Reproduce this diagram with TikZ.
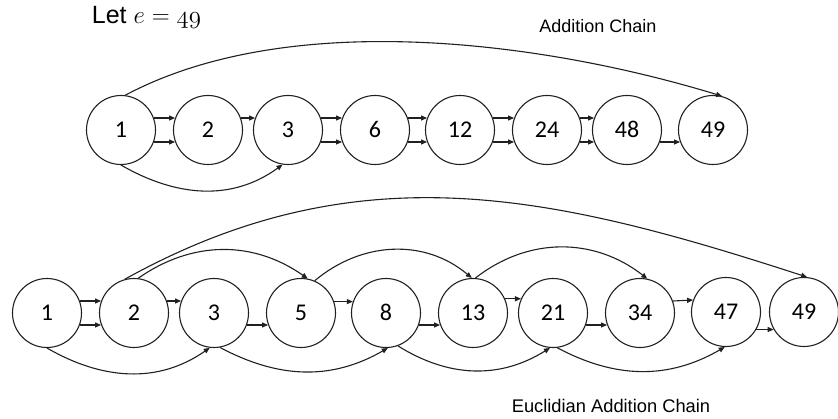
\documentclass[tikz,border=0pt]{standalone}
\usepackage[no-math]{fontspec}
\setmainfont{Liberation Sans}
\newfontfamily\numfont{Carlito}
\usepackage{tikz}
\usetikzlibrary{arrows.meta}

\definecolor{ink}{RGB}{35,31,32}

\begin{document}
\begin{tikzpicture}[x=1pt, y=1pt, line width=1.1pt, draw=ink,
    num/.style={circle, draw, minimum size=69pt, inner sep=0pt,
        text height=15.5pt, text depth=0pt,
        font=\numfont\fontsize{24}{24}\selectfont},
    arr/.style={-{Triangle[length=6pt,width=5pt]}}]
    \useasboundingbox (0,0) rectangle (838,418);

    %% Labels
    \node[anchor=base west, font=\fontsize{25}{25}\selectfont] (let) at (88,394)
        {Let $e \mathrel{=} \mathchar"0134\mathchar"0139$};
    \node[anchor=base, font=\fontsize{18}{18}\selectfont] (top) at (598,385) {Addition Chain};
    \node[anchor=base, font=\fontsize{18.3}{18.3}\selectfont] (bot) at (611,6) {Euclidian Addition Chain};

    %% Addition chain
    \node[num] (t1) at (121,288) {1};
    \node[num] (t2) at (208,288) {2};
    \node[num] (t3) at (288,288) {3};
    \node[num] (t6) at (375,288) {6};
    \node[num] (t12) at (460,288) {12};
    \node[num] (t24) at (547,288) {24};
    \node[num] (t48) at (627,288) {48};
    \node[num] (t49) at (713,288) {49};

    \draw[arr] (t1.20) -- (t2.160);
    \draw[arr] (t1.-20) -- (t2.200);
    \draw[arr] (t2.20) -- (t3.160);
    \draw[arr] (t3.20) -- (t6.160);
    \draw[arr] (t3.-20) -- (t6.200);
    \draw[arr] (t6.20) -- (t12.160);
    \draw[arr] (t6.-20) -- (t12.200);
    \draw[arr] (t12.20) -- (t24.160);
    \draw[arr] (t12.-20) -- (t24.200);
    \draw[arr] (t24.20) -- (t48.160);
    \draw[arr] (t24.-20) -- (t48.200);
    \draw[arr] (t48.-20) -- (t49.200);

    \draw[arr] (t1.83) to[out=28, in=163, looseness=0.8] (t49.75);
    \draw[arr] (t1.-90) to[out=-30, in=-144] (t3.-99);

    %% Euclidian addition chain
    \node[num] (b1) at (47,105) {1};
    \node[num] (b2) at (134,105) {2};
    \node[num] (b3) at (214,105) {3};
    \node[num] (b5) at (301,105) {5};
    \node[num] (b8) at (386,105) {8};
    \node[num] (b13) at (473,105) {13};
    \node[num] (b21) at (553,105) {21};
    \node[num] (b34) at (640,105) {34};
    \node[num] (b47) at (726,106) {47};
    \node[num] (b49) at (804,106) {49};

    \draw[arr] (b1.20) -- (b2.160);
    \draw[arr] (b1.-20) -- (b2.200);
    \draw[arr] (b2.20) -- (b3.160);
    \draw[arr] (b3.-20) -- (b5.200);
    \draw[arr] (b5.19) -- (b8.161);
    \draw[arr] (b8.-20) -- (b13.200);
    \draw[arr] (b13.24) -- (b21.156);
    \draw[arr] (b21.-20) -- (b34.200);
    \draw[arr] (b34.20) -- (b47.160);
    \draw[arr] (b47.-30) -- (b49.210);

    \draw[arr] (b2.105) to[out=29, in=162] (b49.85);
    \draw[arr] (b2.83) to[out=35, in=145] (b5.79);
    \draw[arr] (b5.67) to[out=40, in=140] (b13.92);
    \draw[arr] (b13.86) to[out=38, in=142] (b34.78);

    \draw[arr] (b1.-90) to[out=-30, in=-145] (b3.-97);
    \draw[arr] (b3.-80) to[out=-28, in=-150] (b8.-87);
    \draw[arr] (b8.-70) to[out=-32, in=-148] (b21.-95);
    \draw[arr] (b21.-83) to[out=-28, in=-150] (b47.-92);
\end{tikzpicture}
\end{document}
